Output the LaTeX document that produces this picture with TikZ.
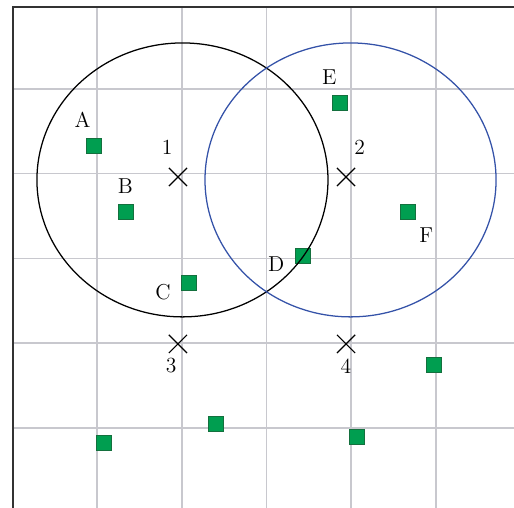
\documentclass[tikz,border=0pt]{standalone}
\usepackage{fontspec}
\usepackage{tikz}
\usetikzlibrary{shapes.misc}
\definecolor{sitegreen}{RGB}{0,158,80}
\definecolor{siteedge}{RGB}{20,112,62}
\definecolor{gridgray}{RGB}{200,200,206}
\definecolor{ringblue}{RGB}{52,82,168}
\begin{document}
\begin{tikzpicture}[x=2cm,y=2cm,
    site/.style={rectangle,fill=sitegreen,draw=siteedge,line width=0.4pt,minimum size=10pt,inner sep=0pt},
    centre/.style={cross out,draw,line width=0.8pt,minimum size=11.4pt,inner sep=0pt},
    lbl/.style={font=\fontsize{14.5}{17}\selectfont,inner sep=0pt}]
    \useasboundingbox (-0.145,0.053) rectangle (5.923,6.05);
    % grid
    \foreach \k in {1,...,5} {
      \draw[gridgray,line width=1.1pt] (\k,5.968) -- (\k,0.053);
      \draw[gridgray,line width=1.1pt] (0.012,\k) -- (5.923,\k);
    }
    % frame, left and top only
    \draw[black!80,line width=1.3pt] (0.012,0.053) -- (0.012,5.968) -- (5.923,5.968);
    % labelled points
    \node[site,label={[lbl,label distance=7pt]100:A}] (A) at (0.965,4.327) {};
    \node[site,label={[lbl,label distance=7pt]92:B}] (B) at (1.343,3.548) {};
    \node[site,label={[lbl,label distance=7pt]185:C}] (C) at (2.086,2.710) {};
    \node[site,label={[lbl,label distance=7pt]184:D}] (D) at (3.429,3.032) {};
    \node[site,label={[lbl,label distance=7pt]100:E}] (E) at (3.869,4.835) {};
    \node[site,label={[lbl,label distance=6.5pt]-55:F}] (F) at (4.672,3.548) {};
    % other points
    \node[site] (G) at (1.083,0.820) {};
    \node[site] (H) at (2.405,1.045) {};
    \node[site] (I) at (4.979,1.742) {};
    \node[site] (J) at (4.070,0.892) {};
    % the two rings
    \draw[black,line width=0.85pt] (2.009,3.926) ellipse [x radius=1.718,y radius=1.617];
    \draw[ringblue,line width=0.85pt] (3.993,3.926) ellipse [x radius=1.718,y radius=1.617];
    % centres
    \node[centre,label={[lbl,label distance=9pt]103:1}] (c1) at (1.956,3.961) {};
    \node[centre,label={[lbl,label distance=9.5pt]70:2}] (c2) at (3.940,3.961) {};
    \node[centre,label={[lbl,label distance=3.5pt]265:3}] (c3) at (1.956,1.990) {};
    \node[centre,label={[lbl,label distance=4pt]270:4}] (c4) at (3.940,1.990) {};
\end{tikzpicture}
\end{document}
